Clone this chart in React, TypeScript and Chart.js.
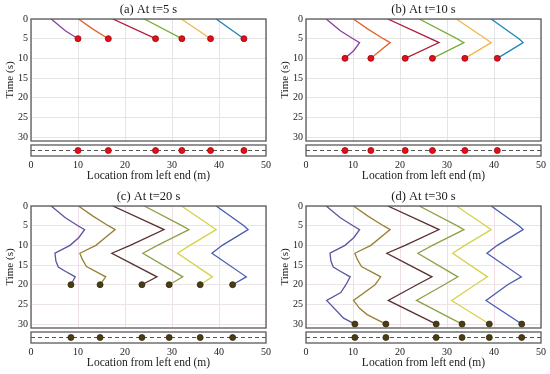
import React, { useEffect, useRef } from 'react';
import { Chart, registerables } from 'chart.js';
Chart.register(...registerables);

// ---- data ----
const xTicks = [0, 10, 20, 30, 40, 50];
const yTicks = [0, 5, 10, 15, 20, 25, 30];
const panelTitles = ['(a) At t=5 s', '(b) At t=10 s', '(c) At t=20 s', '(d) At t=30 s'];
const panelTimes = [5, 10, 20, 30];
const xLabel = 'Location from left end (m)';
const yLabel = 'Time (s)';

// walker trajectories: time (s) and location (m)
const purpleT = [0, 3, 5, 6, 8, 10, 12, 14, 15.5, 16.5, 18, 20, 22, 24, 28.5, 30];
const purpleX = [4.3, 7.3, 10.0, 11.4, 10.2, 8.3, 5.1, 5.3, 5.8, 7.2, 9.4, 8.5, 7.4, 4.4, 8.0, 10.4];
const orangeT = [0, 2.5, 5, 6, 10, 12, 13.5, 15.4, 18, 20, 24, 26, 27.6, 30];
const orangeX = [10.1, 13.1, 16.45, 17.9, 13.8, 10.4, 10.9, 11.8, 15.9, 14.7, 10.1, 11.4, 13.0, 17.0];
const redT = [0, 5, 6, 10, 12, 18, 20, 24, 30];
const redX = [17.4, 26.5, 28.3, 21.1, 17.2, 26.8, 23.6, 17.5, 27.7];
const greenT = [0, 5, 6, 10, 12, 18, 20, 24, 30];
const greenX = [24.1, 32.1, 33.6, 26.9, 23.8, 32.3, 29.4, 23.5, 33.2];
const yellowT = [0, 5, 6, 10, 12, 18, 20, 24, 30];
const yellowX = [32.0, 38.2, 39.4, 33.8, 31.2, 38.6, 36.0, 31.0, 39.0];
const blueT = [0, 5, 6, 10, 12, 18, 20, 24, 30];
const blueX = [39.4, 45.3, 46.2, 40.7, 38.5, 45.8, 42.9, 38.3, 45.9];
const stripLineX = [0, 50];

const walkers = [
  { t: purpleT, x: purpleX },
  { t: orangeT, x: orangeX },
  { t: redT, x: redX },
  { t: greenT, x: greenX },
  { t: yellowT, x: yellowX },
  { t: blueT, x: blueX },
];

// ---- styles ----
const earlyColors = ['#8a3f9e', '#e0642a', '#b01c3c', '#7aaf3a', '#f2b648', '#1f86b8'];
const lateColors = ['#5b54a0', '#9a8035', '#5a2f2f', '#8fa048', '#d6d24a', '#4a5cb0'];
const earlyDot = '#e0101a';
const earlyDotBorder = '#a00010';
const lateDot = '#4a3c14';
const lateDotBorder = '#33280a';
const FONT = "'Liberation Serif', 'DejaVu Serif', serif";
const TEXT = '#1a1a1a';

const framePlugin = {
  id: 'frame',
  afterDraw(chart: any) {
    const { ctx, chartArea } = chart;
    ctx.save();
    ctx.strokeStyle = '#5a5a5a';
    ctx.lineWidth = 1.3;
    ctx.strokeRect(chartArea.left, chartArea.top, chartArea.right - chartArea.left, chartArea.bottom - chartArea.top);
    ctx.restore();
  },
};

const setTicks = (vals: number[]) => (a: any) => {
  a.ticks = vals.map((v) => ({ value: v }));
};

function Panel({ idx, left, top }: { idx: number; left: number; top: number }) {
  const mainRef = useRef<HTMLCanvasElement>(null);
  const stripRef = useRef<HTMLCanvasElement>(null);

  useEffect(() => {
    const T = panelTimes[idx];
    const late = idx >= 2;
    const colors = late ? lateColors : earlyColors;
    const dotBg = late ? lateDot : earlyDot;
    const dotBorder = late ? lateDotBorder : earlyDotBorder;
    const xGrid = late ? '#f0dde6' : '#e4e4e4';
    const yGrid = late ? '#ebe3e6' : '#e4e4e4';

    const lineSets: any[] = walkers.map((w, i) => ({
      data: w.t.map((t, j) => ({ x: w.x[j], y: t })).filter((p) => p.y <= T),
      borderColor: colors[i],
      backgroundColor: colors[i],
      borderWidth: 1.3,
      pointRadius: 0,
      showLine: true,
      fill: false,
      order: 1,
    }));
    const ends = walkers.map((w) => w.x[w.t.indexOf(T)]);
    const dotSet = {
      data: ends.map((x) => ({ x, y: T })),
      pointRadius: 3,
      backgroundColor: dotBg,
      borderColor: dotBorder,
      borderWidth: 0.8,
      showLine: false,
      order: 0,
    };

    const main = new Chart(mainRef.current!, {
      type: 'scatter',
      data: { datasets: [...lineSets, dotSet] },
      options: {
        animation: false,
        responsive: false,
        devicePixelRatio: 1,
        layout: { autoPadding: false, padding: { left: 0, right: 9, top: 0, bottom: 2 } },
        plugins: { legend: { display: false }, tooltip: { enabled: false }, title: { display: false } },
        scales: {
          x: {
            type: 'linear', min: 0, max: 50,
            afterBuildTicks: setTicks(xTicks),
            ticks: { display: false },
            grid: { color: xGrid, drawTicks: false },
            border: { display: false },
            afterFit: (a: any) => { a.height = 0; },
          },
          x2: {
            type: 'linear', position: 'top', min: 0, max: 50,
            ticks: { display: false },
            grid: { display: false, drawTicks: false },
            border: { display: false },
            title: { display: true, text: panelTitles[idx], color: TEXT, font: { family: FONT, size: 12.5 }, padding: { top: 2, bottom: 2 } },
            afterFit: (a: any) => { a.height = 19; },
          },
          y: {
            type: 'linear', min: 0, max: 31, reverse: true,
            afterBuildTicks: setTicks(yTicks),
            ticks: { color: TEXT, font: { family: FONT, size: 10 }, padding: 3 },
            grid: { color: yGrid, drawTicks: false },
            border: { display: false },
            title: { display: true, text: yLabel, color: TEXT, font: { family: FONT, size: 11 }, padding: { top: 4, bottom: 0 } },
            afterFit: (a: any) => { a.width = 31; a.paddingTop = 0; a.paddingBottom = 0; },
          },
        },
      } as any,
      plugins: [framePlugin],
    });

    const strip = new Chart(stripRef.current!, {
      type: 'scatter',
      data: {
        datasets: [
          {
            data: ends.map((x) => ({ x, y: 0.5 })),
            pointRadius: 3,
            backgroundColor: dotBg,
            borderColor: dotBorder,
            borderWidth: 0.8,
            showLine: false,
            order: 0,
          },
          {
            data: stripLineX.map((x) => ({ x, y: 0.5 })),
            borderColor: '#555555',
            borderWidth: 1,
            borderDash: [4, 3],
            pointRadius: 0,
            showLine: true,
            order: 1,
          },
        ] as any,
      },
      options: {
        animation: false,
        responsive: false,
        devicePixelRatio: 1,
        layout: { autoPadding: false, padding: { left: 0, right: 9, top: 2, bottom: 0 } },
        plugins: { legend: { display: false }, tooltip: { enabled: false } },
        scales: {
          x: {
            type: 'linear', min: 0, max: 50,
            afterBuildTicks: setTicks(xTicks),
            ticks: { color: TEXT, font: { family: FONT, size: 10 }, padding: 3, maxRotation: 0 },
            grid: { display: false, drawTicks: false },
            border: { display: false },
            title: { display: true, text: xLabel, color: TEXT, font: { family: FONT, size: 11.5 }, padding: { top: 0, bottom: 4 } },
            afterFit: (a: any) => { a.height = 31; },
          },
          y: {
            type: 'linear', min: 0, max: 1,
            ticks: { display: false },
            grid: { display: false, drawTicks: false },
            border: { display: false },
            afterFit: (a: any) => { a.width = 31; },
          },
        },
      } as any,
      plugins: [framePlugin],
    });

    return () => {
      main.destroy();
      strip.destroy();
    };
  }, [idx]);

  return (
    <div style={{ position: 'absolute', left, top, width: 275, height: 187 }}>
      <canvas ref={mainRef} width={275} height={143} style={{ position: 'absolute', left: 0, top: 0, width: 275, height: 143 }} />
      <canvas ref={stripRef} width={275} height={44} style={{ position: 'absolute', left: 0, top: 143, width: 275, height: 44 }} />
    </div>
  );
}

export default function App() {
  return (
    <div style={{ position: 'absolute', left: 0, top: 0, width: 550, height: 374, background: '#ffffff', overflow: 'hidden' }}>
      <Panel idx={0} left={0} top={0} />
      <Panel idx={1} left={275} top={0} />
      <Panel idx={2} left={0} top={187} />
      <Panel idx={3} left={275} top={187} />
    </div>
  );
}
